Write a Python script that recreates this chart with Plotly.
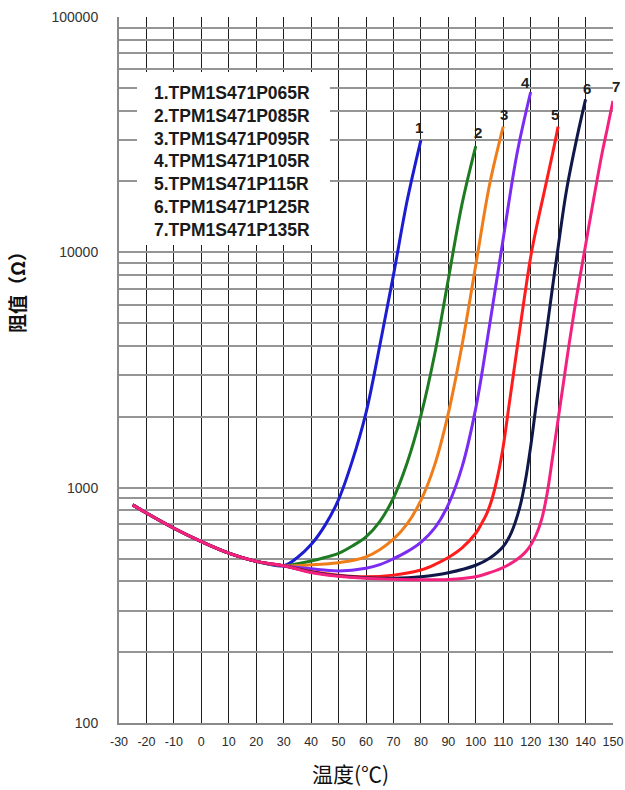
import math
import plotly.graph_objects as go

# ---------------- data ----------------
common_T = [-25, -20, -10, 0, 10, 20, 30]
common_R = [845, 780, 672, 590, 527, 486, 466]

t1 = [35, 40, 45, 50, 55, 60, 65, 70, 75, 80]
r1 = [505, 573, 690, 890, 1300, 2080, 4000, 8000, 16600, 30000]

t2 = [35, 40, 45, 50, 55, 60, 65, 70, 75, 80, 85, 90, 95, 100]
r2 = [475, 488, 505, 526, 565, 618, 718, 904, 1276, 2023, 3681, 7691, 16070, 28300]

t3 = [35, 40, 45, 50, 55, 60, 65, 70, 75, 80, 85, 90, 95, 100, 105, 110]
r3 = [466, 470, 474, 480, 490, 508, 545, 604, 701, 883, 1247, 2070, 4036, 8831, 19320, 34200]

t4 = [40, 50, 60, 65, 70, 75, 80, 85, 90, 95, 100, 105, 110, 115, 120]
r4 = [452, 443, 455, 471, 499, 535, 586, 673, 847, 1225, 2178, 4875, 11430, 26180, 48000]

t5 = [40, 50, 60, 70, 80, 85, 90, 95, 100, 102, 104, 106, 108, 110, 112, 114, 116, 118, 120, 122, 125, 128, 130]
r5 = [440, 425, 418, 425, 447, 471, 505, 555, 640, 700, 776, 902, 1122, 1496, 2188, 3200, 4677, 6761, 9550, 12590, 18200, 26300, 34200]

t6 = [40, 50, 60, 70, 80, 90, 100, 105, 110, 113, 116, 118, 120, 122, 125, 128, 130, 133, 137, 140]
r6 = [438, 422, 414, 412, 418, 435, 468, 501, 562, 646, 822, 1059, 1496, 2244, 3950, 7160, 10500, 18200, 31260, 44700]

t7 = [40, 50, 60, 70, 80, 90, 100, 105, 110, 115, 118, 120, 122, 124, 126, 128, 130, 132, 134, 137, 140, 143, 146, 148, 150]
r7 = [436, 420, 412, 408, 406, 407, 418, 435, 458, 495, 531, 569, 631, 733, 944, 1349, 1950, 2818, 4074, 6761, 10720, 16980, 26300, 33900, 44000]

series_T = [t1, t2, t3, t4, t5, t6, t7]
series_R = [r1, r2, r3, r4, r5, r6, r7]
curve_numbers = ["1", "2", "3", "4", "5", "6", "7"]
legend_labels = [
    "1.TPM1S471P065R",
    "2.TPM1S471P085R",
    "3.TPM1S471P095R",
    "4.TPM1S471P105R",
    "5.TPM1S471P115R",
    "6.TPM1S471P125R",
    "7.TPM1S471P135R",
]
colors = ["#1c1cd2", "#1e7b22", "#f07d1a", "#7a2cf5", "#ff1c1c", "#0f1848", "#f5217f"]

x_tick_vals = list(range(-30, 151, 10))
x_tick_text = [str(v) for v in x_tick_vals]
y_decades = [100, 1000, 10000, 100000]
y_tick_vals = []
y_tick_text = []
for d in y_decades[:-1]:
    for m in range(1, 10):
        y_tick_vals.append(d * m)
        y_tick_text.append(str(d) if m == 1 else "")
y_tick_vals.append(y_decades[-1])
y_tick_text.append(str(y_decades[-1]))

x_title = "温度(℃)"
y_title = "阻值（Ω）"

# ---------------- figure ----------------
fig = go.Figure()
for i in range(7):
    xs = common_T + series_T[i]
    ys = common_R + series_R[i]
    fig.add_trace(go.Scatter(
        x=xs, y=ys, mode="lines",
        line=dict(color=colors[i], width=3, shape="spline", smoothing=1.0),
        hoverinfo="skip", showlegend=False,
    ))

label_shift = [(-2, 13), (2, 14), (1, 12), (-5, 10), (-3, 12), (1, 11), (3, 14)]
for i in range(7):
    fig.add_annotation(
        x=series_T[i][-1], y=math.log10(series_R[i][-1]),
        xref="x", yref="y", text="<b>%s</b>" % curve_numbers[i],
        showarrow=False, xshift=label_shift[i][0], yshift=label_shift[i][1],
        font=dict(family="Liberation Sans, Arial", size=15, color="#222"),
    )

# legend box
fig.add_shape(type="rect", xref="paper", yref="paper",
              x0=0.0364, x1=0.427, y0=0.677, y1=0.922,
              fillcolor="white", line=dict(width=0), layer="above")
fig.add_annotation(
    xref="paper", yref="paper", x=0.0668, y=0.796, xanchor="left", yanchor="middle",
    align="left", showarrow=False,
    text="<br>".join("<b>%s</b>" % s for s in legend_labels),
    font=dict(family="Liberation Sans, Arial", size=17.5, color="#1a1a1a"),
)

# axis titles
fig.add_annotation(
    xref="paper", yref="paper", x=-0.2085, y=0.616, xanchor="center", yanchor="middle",
    textangle=-90, showarrow=False, text="<b>%s</b>" % y_title,
    font=dict(family="Noto Sans CJK SC", size=19, color="#111"),
)
fig.add_annotation(
    xref="paper", yref="paper", x=0.4696, y=-0.071, xanchor="center", yanchor="middle",
    showarrow=False, text=x_title,
    font=dict(family="Noto Sans CJK SC", size=21, color="#111"),
)

fig.update_xaxes(
    range=[-30, 150], tickmode="array", tickvals=x_tick_vals, ticktext=x_tick_text,
    showgrid=True, gridcolor="#1e1e1e", gridwidth=1,
    showline=True, linecolor="#8a8a8a", linewidth=2, zeroline=False, ticks="",
    tickfont=dict(family="Liberation Sans, Arial", size=12.5, color="#2a2a2a"),
    ticklabelstandoff=6, automargin=False,
)
fig.update_yaxes(
    type="log", range=[2, 5], tickmode="array", tickvals=y_tick_vals, ticktext=y_tick_text,
    showgrid=True, gridcolor="#959595", gridwidth=2,
    showline=True, linecolor="#8a8a8a", linewidth=2, zeroline=False, ticks="",
    tickfont=dict(family="Liberation Sans, Arial", size=14, color="#333"),
    ticklabelstandoff=16, automargin=False,
)
fig.update_layout(
    width=625, height=790,
    margin=dict(l=119, r=12, t=17, b=67),
    plot_bgcolor="white", paper_bgcolor="white",
    showlegend=False,
)
fig.write_html("out.html", config={"displayModeBar": False},
               post_script="document.body.style.margin='0';")
